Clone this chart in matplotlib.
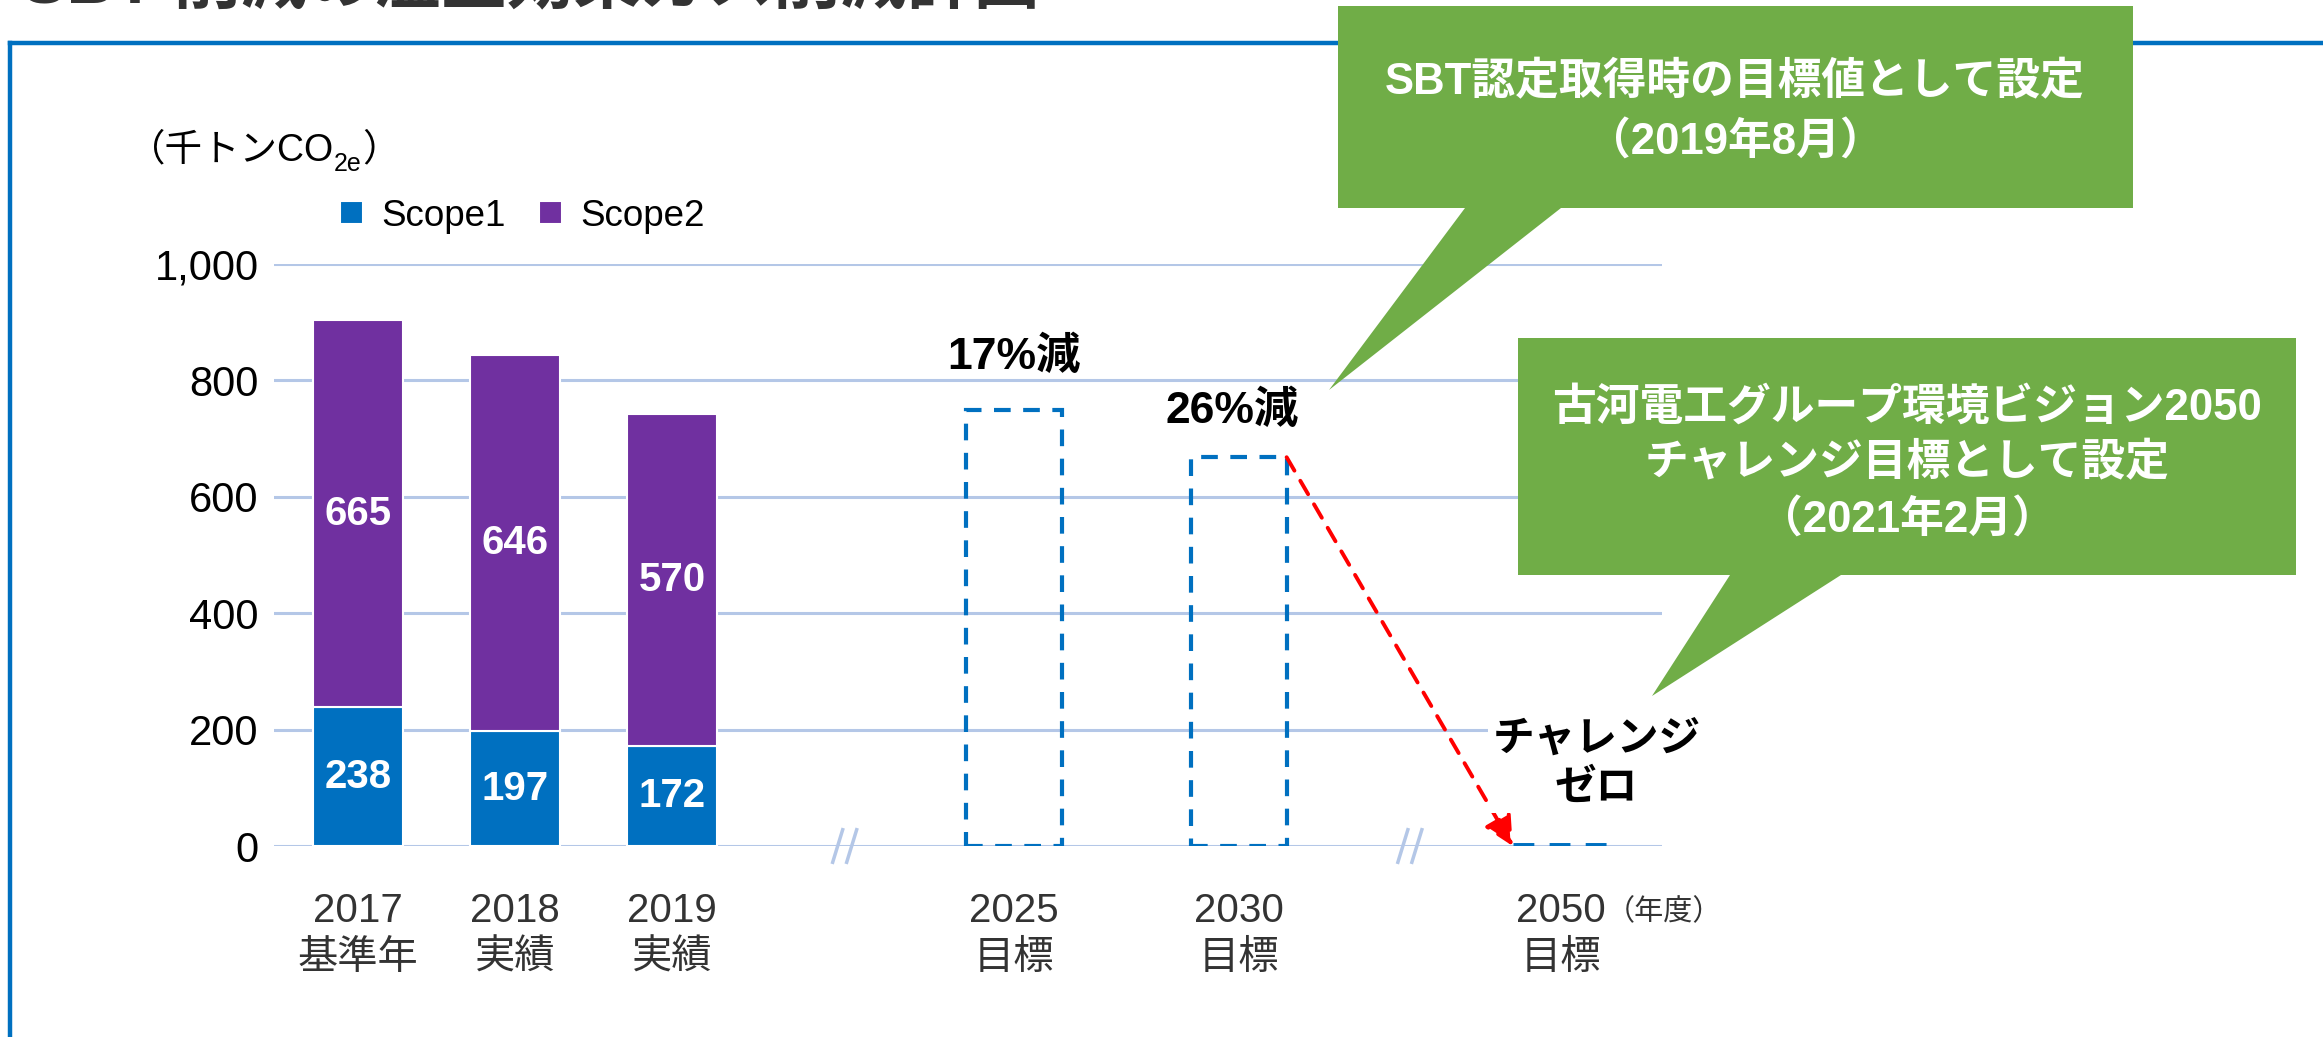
import matplotlib
matplotlib.use('Agg')
import matplotlib.pyplot as plt
from matplotlib.patches import Polygon
from matplotlib.lines import Line2D

plt.rcParams['font.family'] = ['Liberation Sans', 'Noto Sans CJK JP', 'DejaVu Sans']

# ---------------- data ----------------
actual_years = ['2017', '2018', '2019']
actual_sub = ['基準年', '実績', '実績']
scope1 = [238, 197, 172]
scope2 = [665, 646, 570]
target_years = ['2025', '2030', '2050']
target_sub = ['目標', '目標', '目標']
target_values = [750, 668, 0]
target_labels = ['17%減', '26%減', 'チャレンジ\nゼロ']
y_ticks = [0, 200, 400, 600, 800, 1000]
y_ticklabels = ['0', '200', '400', '600', '800', '1,000']
series_names = ['Scope1', 'Scope2']
callout1 = ['SBT認定取得時の目標値として設定', '（2019年8月）']
callout2 = ['古河電工グループ環境ビジョン2050', 'チャレンジ目標として設定', '（2021年2月）']
title = 'SBT 削減の温室効果ガス削減計画'
unit_parts = ['（千トンCO', '2e', '）']
year_unit = '（年度）'

# ---------------- layout ----------------
x_actual = [0, 1, 2]
x_target = [4.18, 5.61, 7.66]
x_breaks = [3.1, 6.7]
bar_w = 0.575
box_w = 0.61

C1 = '#0070C0'
C2 = '#7030A0'
GREEN = '#70AD47'
GRID = '#B4C7E7'

W, H = 2323, 1037
fig = plt.figure(figsize=(W / 100, H / 100), dpi=100)
ax = fig.add_axes([274 / W, 191 / H, 1388 / W, 582 / H])
ax.set_xlim(-0.535, 8.306)
ax.set_ylim(0, 1000)

for s in ax.spines.values():
    s.set_visible(False)
ax.set_yticks(y_ticks, y_ticklabels)
ax.grid(axis='y', color=GRID, lw=2.2)
ax.set_axisbelow(True)
ax.tick_params(axis='y', length=0, pad=11, labelsize=30, labelcolor='black')

# stacked bars
b1 = ax.bar(x_actual, scope1, width=bar_w, color=C1, edgecolor='white', linewidth=1.5,
            label=series_names[0], zorder=3)
b2 = ax.bar(x_actual, scope2, width=bar_w, bottom=scope1, color=C2, edgecolor='white',
            linewidth=1.5, label=series_names[1], zorder=3)
ax.bar_label(b1, labels=[str(v) for v in scope1], label_type='center', color='white',
             fontweight='bold', fontsize=29, zorder=4)
ax.bar_label(b2, labels=[str(v) for v in scope2], label_type='center', color='white',
             fontweight='bold', fontsize=29, zorder=4)

# target boxes
for x, v in zip(x_target, target_values):
    if v > 0:
        ax.bar(x, v, width=box_w, fill=False, edgecolor=C1, linewidth=3,
               linestyle=(0, (4, 3)), zorder=3)
    else:
        ax.hlines(v, x - box_w / 2, x + box_w / 2, color=C1, linewidth=5,
                  linestyles=[(0, (3, 2.2))], zorder=3)

# labels for targets
ax.annotate(target_labels[0], (x_target[0], target_values[0]), xytext=(0, 38),
            textcoords='offset points', ha='center', va='center', fontsize=32,
            fontweight='bold', color='black')
ax.annotate(target_labels[1], (x_target[1], target_values[1]), xytext=(-5, 33),
            textcoords='offset points', ha='center', va='center', fontsize=32,
            fontweight='bold', color='black')
ax.annotate(target_labels[2], (x_target[2], target_values[2]), xytext=(26, 59),
            textcoords='offset points', ha='center', va='center', fontsize=30,
            fontweight='bold', color='black', linespacing=1.3,
            bbox=dict(boxstyle='square,pad=0.1', fc='white', ec='none'), zorder=5)

# red dashed arrow
ax.annotate('', xy=(x_target[2] - box_w / 2, target_values[2]),
            xytext=(x_target[1] + box_w / 2, target_values[1]),
            arrowprops=dict(arrowstyle='-|>,head_length=0.9,head_width=0.45',
                            color='red', lw=2.8, linestyle=(0, (4, 3)),
                            shrinkA=0, shrinkB=0, mutation_scale=20), zorder=4)

# axis break marks
px_x = 157.0
for bx in x_breaks:
    for d in (-7, 7):
        ax.plot([bx + (d - 5) / px_x, bx + (d + 5) / px_x], [-28, 28], color=GRID,
                lw=2.5, clip_on=False, zorder=2)

# category labels
ax.set_xticks(x_actual + x_target,
              [f'{y}\n{s}' for y, s in zip(actual_years + target_years, actual_sub + target_sub)])
ax.tick_params(axis='x', length=0, pad=33, labelsize=29, labelcolor='#333333')
for t in ax.get_xticklabels():
    t.set_linespacing(1.3)
fig.text(1606 / W, 1 - 912 / H, year_unit, ha='left', va='center', fontsize=21, color='#333333')

# unit label with subscript
renderer = fig.canvas.get_renderer()
uy = 1 - 150 / H
t1 = fig.text(128 / W, uy, unit_parts[0], ha='left', va='center', fontsize=27, color='black')
bb1 = t1.get_window_extent(renderer)
t2 = fig.text(bb1.x1 / W, uy - 14 / H, unit_parts[1], ha='left', va='center', fontsize=18,
              color='black')
bb2 = t2.get_window_extent(renderer)
fig.text(bb2.x1 / W, uy, unit_parts[2], ha='left', va='center', fontsize=27, color='black')

# legend
fig.legend(handles=[b1, b2], loc='center left', bbox_to_anchor=(340 / W, 1 - 216 / H),
           bbox_transform=fig.transFigure, ncol=2, frameon=False, fontsize=26.5,
           handlelength=0.62, handleheight=0.62, handletextpad=0.5, columnspacing=0.9,
           borderpad=0, borderaxespad=0)

# frame and cut-off title
fig.add_artist(Line2D([10 / W, 10 / W], [0, 1 - 43 / H], color=C1, lw=3.2,
                      transform=fig.transFigure, zorder=0.5))
fig.add_artist(Line2D([10 / W, 1.0], [1 - 43 / H, 1 - 43 / H], color=C1, lw=3.2,
                      transform=fig.transFigure, zorder=0.5))
fig.text(22 / W, 1 - 3 / H, title, ha='left', va='baseline', fontsize=48,
         fontweight='bold', color='#333333')

# callouts (figure pixel coords, y from top)
def callout(pts):
    p = Polygon([(x / W, 1 - y / H) for x, y in pts], closed=True, fc=GREEN, ec='none',
                transform=fig.transFigure, zorder=6)
    fig.add_artist(p)

callout([(1338, 6), (2133, 6), (2133, 208), (1561, 208), (1329, 390), (1465, 208), (1338, 208)])
callout([(1518, 338), (2296, 338), (2296, 575), (1841, 575), (1652, 696), (1730, 575), (1518, 575)])

for txt, yy in zip(callout1, [82, 143]):
    fig.text(1735 / W, 1 - yy / H, txt, ha='center', va='center', fontsize=31.5,
             fontweight='bold', color='white', zorder=7)
for txt, yy in zip(callout2, [408, 463, 521]):
    fig.text(1907 / W, 1 - yy / H, txt, ha='center', va='center', fontsize=31.5,
             fontweight='bold', color='white', zorder=7)

fig.savefig('out.png', dpi=100)
